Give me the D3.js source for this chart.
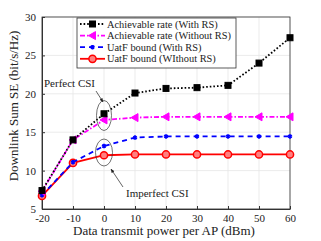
<!DOCTYPE html>
<html>
<head>
<meta charset="utf-8">
<script src="https://cdn.jsdelivr.net/npm/d3@7"></script>
<style>
  body { margin: 0; background: #fff; }
  svg text { fill: #222; }
</style>
</head>
<body>
<div id="chart"></div>
<script>
// data
const power = [-20, -10, 0, 10, 20, 30, 40, 50, 60];
const rateWithRS = [7.4, 14.0, 17.4, 20.1, 20.7, 20.8, 21.1, 24.0, 27.3];
const rateWithoutRS = [7.3, 14.0, 16.6, 16.9, 17.0, 17.0, 17.0, 17.0, 17.0];
const uatfWithRS = [6.8, 11.1, 13.2, 14.3, 14.45, 14.45, 14.45, 14.45, 14.45];
const uatfWithoutRS = [6.7, 11.0, 12.0, 12.1, 12.1, 12.1, 12.1, 12.1, 12.1];
const xTicks = [-20, -10, 0, 10, 20, 30, 40, 50, 60];
const yTicks = [5, 10, 15, 20, 25, 30];
const seriesNames = ["Achievable rate (With RS)", "Achievable rate (Without RS)",
                     "UatF bound (With RS)", "UatF bound (WIthout RS)"];

const width = 321, height = 241;
const margin = {top: 17, right: 31, bottom: 32, left: 42};
const serif = "'Liberation Serif', serif";

const svg = d3.select("#chart").append("svg")
    .attr("width", width)
    .attr("height", height)
    .style("font-family", serif);

const x = d3.scaleLinear().domain([-20, 60]).range([margin.left, width - margin.right]);
const y = d3.scaleLinear().domain([5, 30]).range([height - margin.bottom, margin.top]);

// grid
svg.append("g").selectAll("line.gx").data(xTicks).enter().append("line")
    .attr("x1", d => x(d)).attr("x2", d => x(d))
    .attr("y1", y(5)).attr("y2", y(30))
    .attr("stroke", "#e6e6e6").attr("stroke-width", 0.8);
svg.append("g").selectAll("line.gy").data(yTicks).enter().append("line")
    .attr("x1", x(-20)).attr("x2", x(60))
    .attr("y1", d => y(d)).attr("y2", d => y(d))
    .attr("stroke", "#e6e6e6").attr("stroke-width", 0.8);

// axes (matlab-style ticks inside)
const xAxis = svg.append("g")
    .attr("transform", "translate(0," + y(5) + ")")
    .call(d3.axisBottom(x).tickValues(xTicks).tickFormat(d => String(d))
        .tickSizeInner(-3).tickSizeOuter(0).tickPadding(5));
const yAxis = svg.append("g")
    .attr("transform", "translate(" + x(-20) + ",0)")
    .call(d3.axisLeft(y).tickValues(yTicks).tickFormat(d => String(d))
        .tickSizeInner(-3).tickSizeOuter(0).tickPadding(6));
[xAxis, yAxis].forEach(a => {
    a.attr("font-family", serif).attr("font-size", 11);
    a.selectAll("path").attr("stroke", "#333");
    a.selectAll("line").attr("stroke", "#333");
    a.selectAll("text").attr("fill", "#222");
});
svg.append("rect")
    .attr("x", x(-20)).attr("y", y(30))
    .attr("width", x(60) - x(-20)).attr("height", y(5) - y(30))
    .attr("fill", "none").attr("stroke", "#333").attr("stroke-width", 0.8);

// axis labels
svg.append("text")
    .attr("x", (x(-20) + x(60)) / 2 - 2).attr("y", 235)
    .attr("text-anchor", "middle").attr("font-size", 13)
    .text("Data transmit power per AP (dBm)");
svg.append("text")
    .attr("transform", "translate(18," + 106 + ") rotate(-90)")
    .attr("text-anchor", "middle").attr("font-size", 13)
    .text("Downlink Sum SE (bit/s/Hz)");

const line = d3.line().x(d => x(d[0])).y(d => y(d[1]));

const styles = [
    {data: rateWithRS, color: "#000", dash: "1.6,2", marker: "square"},
    {data: rateWithoutRS, color: "#ff00ff", dash: "5,2,1.5,2", marker: "triangle"},
    {data: uatfWithRS, color: "#0000ff", dash: "5,4", marker: "star"},
    {data: uatfWithoutRS, color: "#ff0000", dash: null, marker: "circle"}
];

function drawMarker(g, type, color, cx, cy) {
    if (type === "square") {
        g.append("rect").attr("x", cx - 3).attr("y", cy - 3).attr("width", 6).attr("height", 6)
            .attr("fill", "#000").attr("stroke", "#000");
    } else if (type === "triangle") {
        g.append("path").attr("d", `M${cx - 4},${cy} L${cx + 3},${cy - 4} L${cx + 3},${cy + 4} Z`)
            .attr("fill", color).attr("stroke", color);
    } else if (type === "star") {
        g.append("path").attr("d", d3.symbol().type(d3.symbolAsterisk).size(14)())
            .attr("transform", `translate(${cx},${cy})`)
            .attr("fill", "none").attr("stroke", color).attr("stroke-width", 1.8);
    } else {
        g.append("circle").attr("cx", cx).attr("cy", cy).attr("r", 3.6)
            .attr("fill", "#ff8080").attr("stroke", color).attr("stroke-width", 1.5);
    }
}

// draw back to front so black/magenta sit on top
styles.slice().reverse().forEach(s => {
    const pts = power.map((p, i) => [p, s.data[i]]);
    svg.append("path").datum(pts)
        .attr("d", line)
        .attr("fill", "none")
        .attr("stroke", s.color)
        .attr("stroke-width", 1.8)
        .attr("stroke-dasharray", s.dash);
    const g = svg.append("g");
    pts.forEach(p => drawMarker(g, s.marker, s.color, x(p[0]), y(p[1])));
});

// legend
const lg = svg.append("g");
lg.append("rect").attr("x", 77).attr("y", 18).attr("width", 159).attr("height", 50)
    .attr("fill", "#fff").attr("stroke", "#333").attr("stroke-width", 0.8);
styles.forEach((s, i) => {
    const ly = 24 + i * 11.6;
    lg.append("line").attr("x1", 80).attr("x2", 105).attr("y1", ly).attr("y2", ly)
        .attr("stroke", s.color).attr("stroke-width", 1.8).attr("stroke-dasharray", s.dash);
    drawMarker(lg, s.marker, s.color, 92.5, ly);
    lg.append("text").attr("x", 107).attr("y", ly + 3.5).attr("font-size", 10.4)
        .text(seriesNames[i]);
});

// annotations
svg.append("defs").append("marker")
    .attr("id", "arr").attr("viewBox", "0 0 10 10").attr("refX", 9).attr("refY", 5)
    .attr("markerWidth", 6).attr("markerHeight", 6).attr("orient", "auto")
    .append("path").attr("d", "M0,1 L10,5 L0,9 Z").attr("fill", "#222");

svg.append("ellipse").attr("cx", x(0)).attr("cy", 115.5).attr("rx", 7.5).attr("ry", 15)
    .attr("fill", "none").attr("stroke", "#333").attr("stroke-width", 0.7);
svg.append("ellipse").attr("cx", x(0)).attr("cy", 152.5).attr("rx", 8.5).attr("ry", 13.5)
    .attr("fill", "none").attr("stroke", "#333").attr("stroke-width", 0.7);
svg.append("text").attr("x", 44).attr("y", 87).attr("font-size", 11).text("Perfect CSI");
svg.append("line").attr("x1", 96).attr("y1", 91).attr("x2", 103).attr("y2", 102)
    .attr("stroke", "#222").attr("stroke-width", 0.7).attr("marker-end", "url(#arr)");
svg.append("text").attr("x", 126).attr("y", 197).attr("font-size", 11).text("Imperfect CSI");
svg.append("line").attr("x1", 123).attr("y1", 187).attr("x2", 111).attr("y2", 169)
    .attr("stroke", "#222").attr("stroke-width", 0.7).attr("marker-end", "url(#arr)");
</script>
</body>
</html>
